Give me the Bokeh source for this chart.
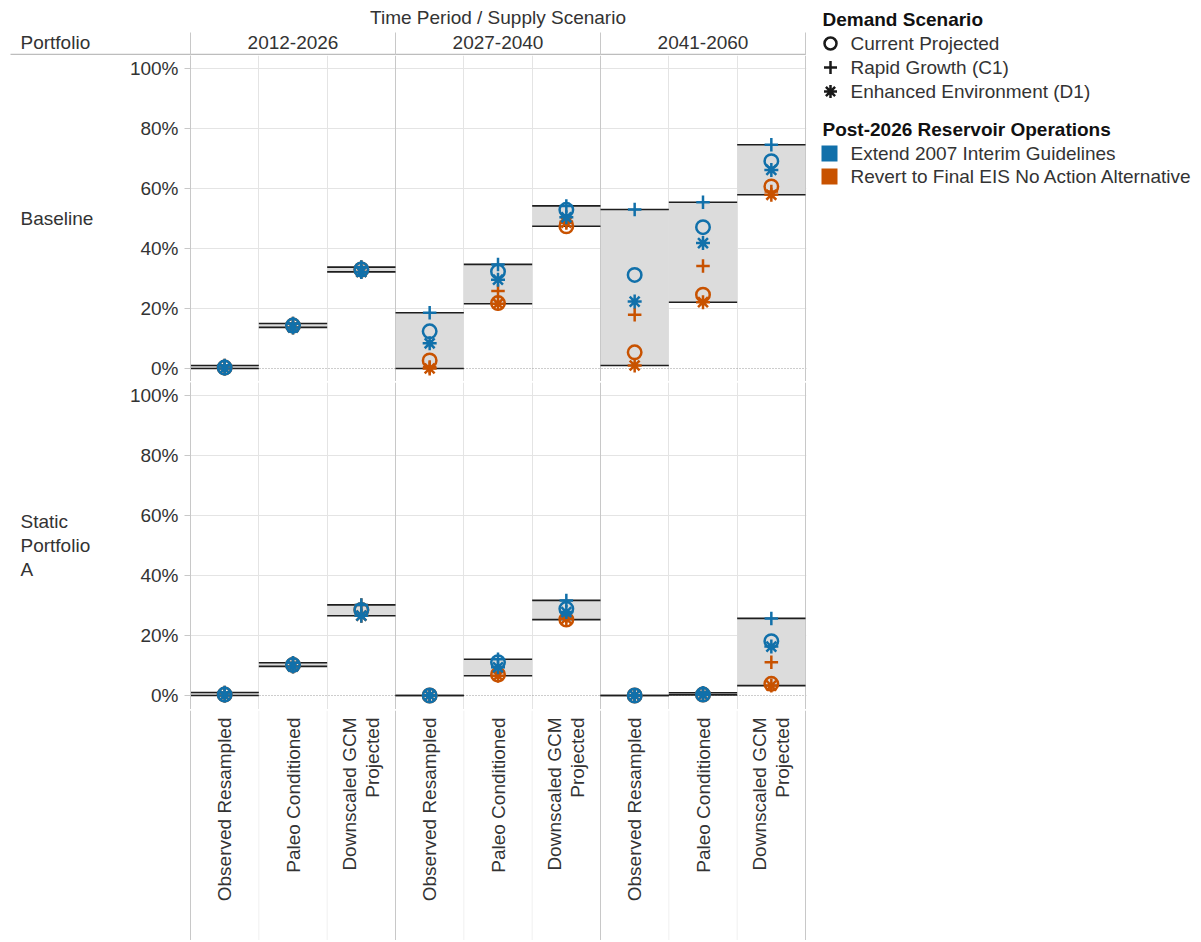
import numpy as np
from bokeh.plotting import figure
from bokeh.models import Range1d, FixedTicker, PrintfTickFormatter, Grid, Span
from bokeh.layouts import row, column
from bokeh.core.properties import value
from bokeh.embed import file_html
from bokeh.resources import INLINE

# ---------------- data ----------------
periods = ["2012-2026", "2027-2040", "2041-2060"]
supply = ["Observed Resampled", "Paleo Conditioned", "Downscaled GCM\nProjected"]
portfolios = ["Baseline", "Static\nPortfolio\nA"]
demand = ["Current Projected", "Rapid Growth (C1)", "Enhanced Environment (D1)"]
demand_markers = ["circle", "cross", "asterisk"]
operations = ["Extend 2007 Interim Guidelines", "Revert to Final EIS No Action Alternative"]
y_ticks = [0, 20, 40, 60, 80, 100]

# Baseline portfolio (% of traces), 9 period/supply columns
baseline_extend_current = [0.3, 14.3, 33.0, 12.4, 32.3, 52.9, 31.2, 47.1, 69.1]
baseline_extend_rapid = [1.0, 15.0, 33.8, 18.6, 34.7, 54.2, 53.0, 55.4, 74.6]
baseline_extend_enhanced = [0.0, 13.7, 32.2, 8.4, 29.6, 50.4, 22.3, 41.8, 66.2]
baseline_revert_current = [0.3, 14.3, 33.0, 2.7, 21.8, 47.4, 5.4, 24.6, 60.7]
baseline_revert_rapid = [1.0, 15.0, 33.8, 0.5, 25.8, 49.0, 17.9, 34.2, 59.0]
baseline_revert_enhanced = [0.0, 13.7, 32.2, 0.0, 21.6, 48.6, 1.0, 22.1, 57.9]

# Static Portfolio A
static_extend_current = [0.3, 10.2, 28.5, 0.0, 11.1, 28.9, 0.0, 0.3, 18.1]
static_extend_rapid = [1.0, 10.9, 30.2, 0.0, 12.1, 31.7, 0.0, 0.9, 25.7]
static_extend_enhanced = [0.0, 9.7, 26.6, 0.0, 9.4, 27.8, 0.0, 0.2, 16.3]
static_revert_current = [0.3, 10.2, 28.5, 0.0, 7.0, 25.3, 0.0, 0.3, 3.9]
static_revert_rapid = [1.0, 10.9, 30.2, 0.0, 7.8, 26.3, 0.0, 0.9, 11.1]
static_revert_enhanced = [0.0, 9.7, 26.6, 0.0, 6.6, 25.6, 0.0, 0.2, 3.3]

# ---------------- styling / layout ----------------
FONT = value("Liberation Sans")
FS = "19px"
BLUE = "#1170AA"
ORANGE = "#C85200"
TXT = "#333333"
GROUP_LINE = "#C8C8C8"
LIGHT_LINE = "#E4E4E4"
SEP_LINE = "#BDBDBD"

n_sup = len(supply)
n_sub = len(periods) * n_sup
PX = 615 / n_sub                      # pixels per column unit
centers = np.arange(n_sub) + 0.5
group_edges = np.arange(len(periods) + 1) * n_sup
sub_edges = [i for i in range(1, n_sub) if i % n_sup != 0]
LEFT_W = 810
FRAME_LEFT = 190
ext = Range1d(-FRAME_LEFT / PX, (LEFT_W - FRAME_LEFT) / PX)
line_start = -180 / PX


def blank(width, height, xr, yr):
    p = figure(width=width, height=height, x_range=xr, y_range=yr,
               x_axis_location=None, y_axis_location=None,
               toolbar_location=None, output_backend="svg",
               min_border=0, outline_line_color=None)
    p.grid.visible = False
    return p


# ---------------- header ----------------
HH = 55
hdr = blank(LEFT_W, HH, ext, Range1d(0, HH))
hdr.segment(x0=[line_start], y0=[1], x1=[n_sub], y1=[1], line_color=SEP_LINE, line_width=1.3)
hdr.segment(x0=group_edges, y0=0, x1=group_edges, y1=23, line_color=GROUP_LINE, line_width=1)
hdr.text(x=[n_sub / 2], y=[HH - 17], text=["Time Period / Supply Scenario"], text_font=FONT,
         text_font_size=FS, text_color=TXT, text_align="center", text_baseline="middle")
hdr.text(x=(group_edges[:-1] + n_sup / 2), y=HH - 42, text=periods, text_font=FONT,
         text_font_size=FS, text_color=TXT, text_align="center", text_baseline="middle")
hdr.text(x=[-170 / PX], y=[HH - 42], text=["Portfolio"], text_font=FONT,
         text_font_size=FS, text_color=TXT, text_align="left", text_baseline="middle")


# ---------------- panels ----------------
def make_panel(extend, revert, yr, height, label):
    p = figure(width=LEFT_W - 126, height=height, x_range=Range1d(0, 616 / PX), y_range=yr,
               x_axis_location=None, y_axis_location="left",
               toolbar_location=None, output_backend="svg",
               min_border_left=64, min_border_right=4, min_border_top=0, min_border_bottom=0,
               outline_line_color=None)
    p.xgrid.visible = False
    p.ygrid.ticker = FixedTicker(ticks=y_ticks[1:])
    p.ygrid.grid_line_color = LIGHT_LINE
    p.add_layout(Grid(dimension=0, ticker=FixedTicker(ticks=sub_edges), grid_line_color=LIGHT_LINE))
    p.add_layout(Span(location=y_ticks[0], dimension="width", line_color="#9A9A9A",
                      line_dash="1 2", line_width=1, level="underlay"))

    allv = np.array(list(extend) + list(revert))
    lo = allv.min(axis=0)
    hi = allv.max(axis=0)
    p.quad(left=centers - 0.5, right=centers + 0.5, bottom=lo, top=hi,
           fill_color="#DCDCDC", line_color=None)
    p.segment(x0=group_edges, y0=yr.start, x1=group_edges, y1=yr.end,
              line_color=GROUP_LINE, line_width=1)
    p.segment(x0=np.r_[centers - 0.5, centers - 0.5], y0=np.r_[lo, hi],
              x1=np.r_[centers + 0.5, centers + 0.5], y1=np.r_[lo, hi],
              line_color="#1E1E1E", line_width=1.6)

    for vals, color in [(revert, ORANGE), (extend, BLUE)]:
        cur, rap, enh = vals
        p.scatter(centers, cur, marker="circle", size=13.5, fill_color=None,
                  line_color=color, line_width=2.5)
        p.scatter(centers, enh, marker="asterisk", size=14, line_color=color, line_width=2.5)
        p.scatter(centers, rap, marker="cross", size=13.5, line_color=color, line_width=2.5)

    ax = p.yaxis[0]
    ax.ticker = FixedTicker(ticks=y_ticks)
    ax.formatter = PrintfTickFormatter(format="%d%%")
    ax.axis_line_color = GROUP_LINE
    ax.major_tick_line_color = GROUP_LINE
    ax.major_tick_out = 6
    ax.major_tick_in = 0
    ax.minor_tick_line_color = None
    ax.major_label_standoff = 6
    ax.major_label_text_font = "Liberation Sans"
    ax.major_label_text_font_size = FS
    ax.major_label_text_color = TXT

    lab = blank(126, height, Range1d(0, 126), yr)
    lab.text(x=[20], y=[(y_ticks[0] + y_ticks[-1]) / 2], text=[label], text_font=FONT,
             text_font_size=FS, text_color=TXT, text_align="left", text_baseline="middle",
             text_line_height=1.15)
    return row(lab, p)


top = make_panel([baseline_extend_current, baseline_extend_rapid, baseline_extend_enhanced],
                 [baseline_revert_current, baseline_revert_rapid, baseline_revert_enhanced],
                 Range1d(-13 / 3, 313 / 3), 326, portfolios[0])
bot = make_panel([static_extend_current, static_extend_rapid, static_extend_enhanced],
                 [static_revert_current, static_revert_rapid, static_revert_enhanced],
                 Range1d(-14 / 3, 313 / 3), 327, portfolios[1])


def separator():
    s = blank(LEFT_W, 1, ext, Range1d(0, 1))
    s.segment(x0=[line_start], y0=[0.5], x1=[n_sub], y1=[0.5], line_color=SEP_LINE, line_width=1.3)
    return s


# ---------------- x labels ----------------
XH = 230
xl = blank(LEFT_W, XH, ext, Range1d(0, XH))
xl.segment(x0=sub_edges, y0=0, x1=sub_edges, y1=XH, line_color="#F0F0F0", line_width=1)
xl.segment(x0=group_edges, y0=0, x1=group_edges, y1=XH, line_color=GROUP_LINE, line_width=1)
xl.text(x=centers, y=XH - 7, text=supply * len(periods), angle=np.pi / 2, text_font=FONT,
        text_font_size=FS, text_color=TXT, text_align="right", text_baseline="middle",
        text_line_height=1.1)

# ---------------- legend ----------------
LH = 940
lg = blank(385, LH, Range1d(0, 385), Range1d(0, LH))
pitch = 24
t1 = LH - 19
rows1 = t1 - pitch * (np.arange(len(demand)) + 1)
t2 = rows1[-1] - 38
rows2 = t2 - pitch * (np.arange(len(operations)) + 1) + np.array([0, 1])
lg.text(x=[12, 12], y=[t1, t2], text=["Demand Scenario", "Post-2026 Reservoir Operations"],
        text_font=FONT, text_font_size=FS, text_font_style="bold", text_color="#111111",
        text_align="left", text_baseline="middle")
lg.scatter(x=20, y=rows1, marker=demand_markers, size=[12, 13, 13], fill_color=None,
           line_color="#1A1A1A", line_width=2.5)
lg.text(x=40, y=rows1, text=demand, text_font=FONT, text_font_size=FS,
        text_color=TXT, text_align="left", text_baseline="middle")
lg.scatter(x=19, y=rows2, marker="square", size=16, fill_color=[BLUE, ORANGE], line_color=None)
lg.text(x=40, y=rows2, text=operations, text_font=FONT, text_font_size=FS,
        text_color=TXT, text_align="left", text_baseline="middle")

layout = row(column(hdr, top, separator(), bot, separator(), xl), lg)

open("out.html", "w").write(file_html(layout, INLINE))
